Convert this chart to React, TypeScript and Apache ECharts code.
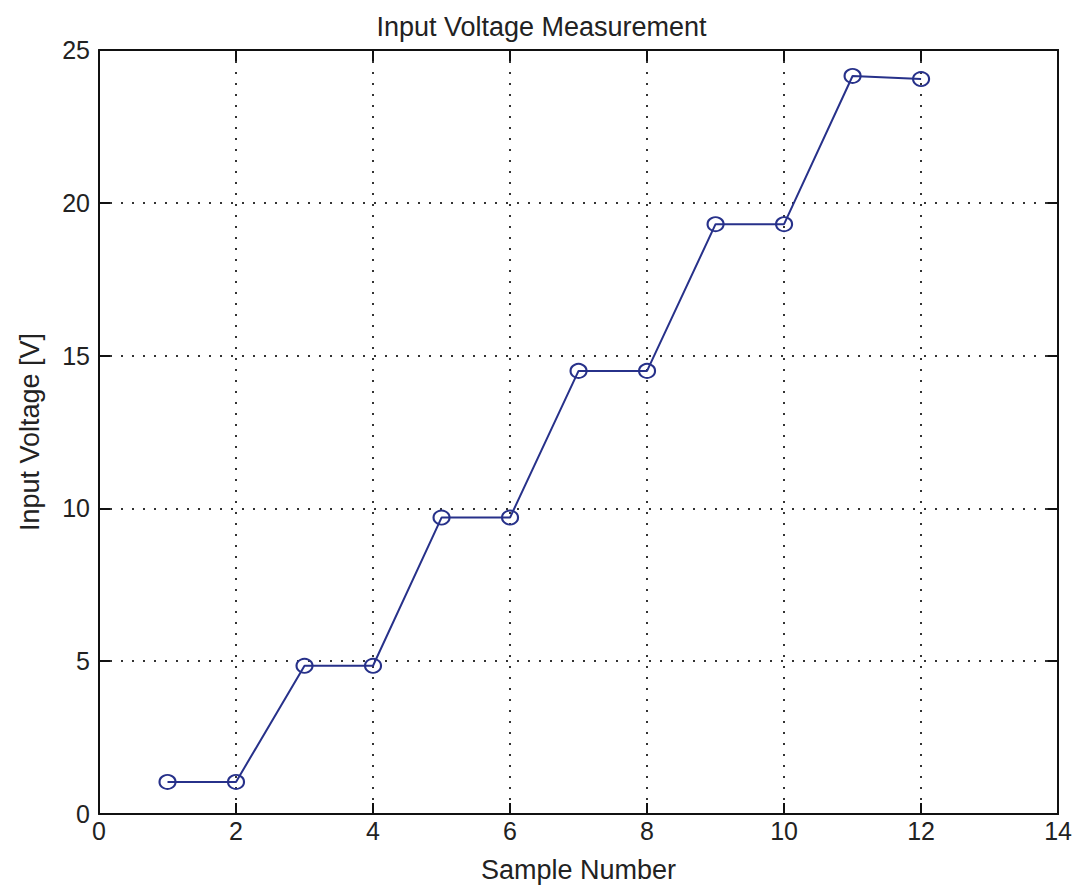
import React, { useEffect, useRef } from "react";
import * as echarts from "echarts";

const samples = [1, 2, 3, 4, 5, 6, 7, 8, 9, 10, 11, 12];
const voltages = [1.05, 1.05, 4.85, 4.85, 9.7, 9.7, 14.5, 14.5, 19.3, 19.3, 24.15, 24.05];
const titleText = "Input Voltage Measurement";
const xName = "Sample Number";
const yName = "Input Voltage [V]";

export default function App() {
  const ref = useRef<HTMLDivElement>(null);
  useEffect(() => {
    if (!ref.current) return;
    const chart = echarts.init(ref.current, null, { renderer: "svg" });
    const font = "Liberation Sans";
    const axisLine = { show: true, onZero: false, lineStyle: { color: "#111", width: 2 } };
    const tick = { show: true, inside: true, length: 11, lineStyle: { color: "#111", width: 2 } };
    const grid = { show: true, lineStyle: { type: [2, 9], color: "#333", width: 2 } };
    chart.setOption({
      animation: false,
      backgroundColor: "#fff",
      title: {
        text: titleText,
        left: "center",
        top: 0,
        textStyle: { fontFamily: font, fontSize: 27, fontWeight: "normal", color: "#222" },
      },
      grid: { left: 84, right: 11, top: 42, bottom: 68 },
      xAxis: [
        {
          type: "value",
          min: 0,
          max: 14,
          interval: 2,
          name: xName,
          nameLocation: "middle",
          nameGap: 42,
          nameTextStyle: { fontFamily: font, fontSize: 27, color: "#222" },
          axisLine,
          axisTick: tick,
          axisLabel: { fontFamily: font, fontSize: 25, color: "#222", margin: 4 },
          splitLine: grid,
        },
        {
          type: "value",
          position: "top",
          min: 0,
          max: 14,
          interval: 2,
          axisLine,
          axisTick: tick,
          axisLabel: { show: false },
          splitLine: { show: false },
        },
      ],
      yAxis: [
        {
          type: "value",
          min: 0,
          max: 25,
          interval: 5,
          name: yName,
          nameLocation: "middle",
          nameGap: 56,
          nameTextStyle: { fontFamily: font, fontSize: 27, color: "#222" },
          axisLine,
          axisTick: tick,
          axisLabel: { fontFamily: font, fontSize: 25, color: "#222", margin: 9 },
          splitLine: grid,
        },
        {
          type: "value",
          position: "right",
          min: 0,
          max: 25,
          interval: 5,
          axisLine,
          axisTick: tick,
          axisLabel: { show: false },
          splitLine: { show: false },
        },
      ],
      series: [
        {
          type: "line",
          data: samples.map((s, i) => [s, voltages[i]]),
          symbol: "circle",
          symbolSize: [16, 14],
          showAllSymbol: true,
          lineStyle: { color: "#27318a", width: 2 },
          itemStyle: { color: "rgba(0,0,0,0)", borderColor: "#27318a", borderWidth: 2 },
        },
      ],
    });
    return () => chart.dispose();
  }, []);
  return <div ref={ref} style={{ width: 1067, height: 880 }} />;
}
